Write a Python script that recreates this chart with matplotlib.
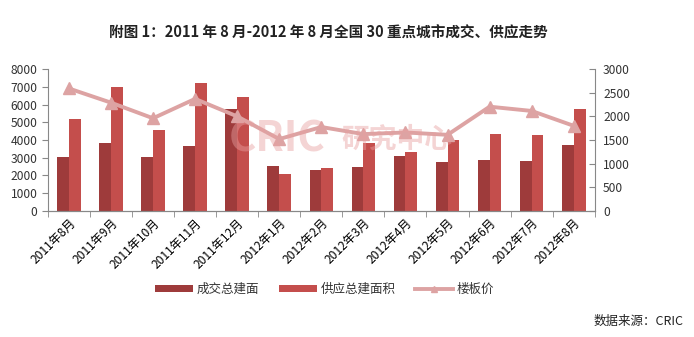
import matplotlib
matplotlib.use("Agg")
import matplotlib.pyplot as plt
import numpy as np

plt.rcParams['font.family'] = ['Noto Sans CJK SC', 'DejaVu Sans']

months = ["2011年8月", "2011年9月", "2011年10月", "2011年11月", "2011年12月",
          "2012年1月", "2012年2月", "2012年3月", "2012年4月", "2012年5月",
          "2012年6月", "2012年7月", "2012年8月"]
deal_area = [3050, 3830, 3040, 3660, 5750, 2520, 2310, 2480, 3100, 2760, 2870, 2840, 3740]
supply_area = [5160, 7000, 4540, 7190, 6400, 2070, 2400, 3850, 3340, 4000, 4340, 4260, 5770]
floor_price = [2590, 2290, 1960, 2370, 2000, 1520, 1775, 1625, 1660, 1610, 2205, 2115, 1800]

c_deal = "#9E3B3B"
c_supply = "#C44E4C"
c_price = "#DDA3A3"
axis_col = "#888888"

fig = plt.figure(figsize=(6.94, 3.37), dpi=100)
ax = fig.add_axes([0.069, 0.374, 0.788, 0.421])
ax2 = ax.twinx()

x = np.arange(len(months))
w = 0.28
ax.bar(x - w / 2, deal_area, w, color=c_deal, label="成交总建面", zorder=2)
ax.bar(x + w / 2, supply_area, w, color=c_supply, label="供应总建面积", zorder=2)
ax2.plot(x, floor_price, color=c_price, lw=2.8, marker="^", ms=8,
         label="楼板价", zorder=3)

ax.set_xlim(-0.5, len(months) - 0.5)
ax.set_ylim(0, 8000)
ax.set_yticks(np.arange(0, 8001, 1000))
ax2.set_ylim(0, 3000)
ax2.set_yticks(np.arange(0, 3001, 500))

ax.set_xticks(x)
ax.set_xticklabels(months, rotation=45, ha="right", rotation_mode="anchor", fontsize=8.7)
ax.set_xticks(np.arange(-0.5, len(months), 1), minor=True)
ax.tick_params(axis="x", which="major", length=0, pad=4)
ax.tick_params(axis="x", which="minor", length=4, color=axis_col, direction="out")
ax.tick_params(axis="y", length=4, color=axis_col, labelsize=8.7, labelcolor="#333333")
ax2.tick_params(axis="y", length=4, color=axis_col, direction="in", labelsize=8.7,
                labelcolor="#333333", pad=6)

for a in (ax, ax2):
    a.spines["top"].set_visible(False)
    a.spines["left"].set_color(axis_col)
    a.spines["right"].set_color(axis_col)
    a.spines["bottom"].set_color(axis_col)
ax2.spines["left"].set_visible(False)
ax.spines["right"].set_visible(False)

# watermark
fig.text(0.40, 0.585, "CRIC", fontsize=30, fontweight="bold", style="italic",
         color="#E8A0A0", alpha=0.45, ha="center", va="center", zorder=10)
fig.text(0.572, 0.585, "研究中心", fontsize=20, fontweight="bold",
         color="#E8A0A0", alpha=0.45, ha="center", va="center", zorder=10)

h1, l1 = ax.get_legend_handles_labels()
h2, l2 = ax2.get_legend_handles_labels()
fig.legend(h1 + h2, l1 + l2, loc="center", bbox_to_anchor=(0.468, 0.142), ncol=3,
           frameon=False, fontsize=9, handlelength=3.0, handleheight=0.5,
           columnspacing=1.6, handletextpad=0.3, markerscale=0.6,
           labelcolor="#333333")

fig.text(0.473, 0.905, "附图 1：2011 年 8 月-2012 年 8 月全国 30 重点城市成交、供应走势",
         ha="center", va="center", fontsize=10.5, fontweight="bold", color="#222222")
fig.text(0.985, 0.045, "数据来源：CRIC", ha="right", va="center", fontsize=9, color="#222222")

fig.savefig("out.png", dpi=100, facecolor="white")
